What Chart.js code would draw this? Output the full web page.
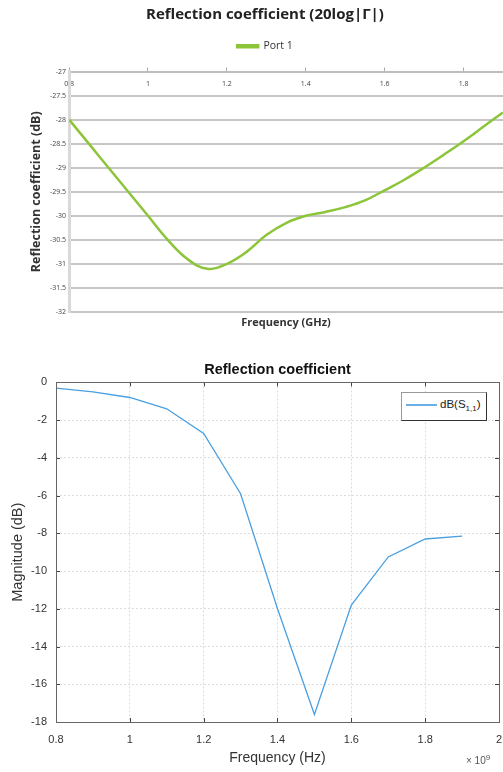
<!DOCTYPE html>
<html>
<head>
<meta charset="utf-8">
<script src="https://cdn.jsdelivr.net/npm/chart.js@4/dist/chart.umd.min.js"></script>
<style>
body { margin: 0; background: #fff; width: 503px; height: 772px; overflow: hidden; position: relative; }
#top { position: absolute; left: 0; top: 0; }
#bottom { position: absolute; left: 0; top: 350px; }
#exp { position: absolute; left: 466px; top: 753px; font: 10px 'Liberation Sans', Arial, sans-serif; color: #555; }
#exp sup { font-size: 8px; }
#s11legend { position: absolute; font: 11.5px 'Liberation Sans', Arial, sans-serif; color: #222; background: #fff;
  border: 1px solid #999; border-right: 1px solid #333; border-bottom: 1px solid #333; padding: 5px 5px 6px 4px; white-space: nowrap; }
#s11legend span.line { display: inline-block; width: 31px; border-top: 2px solid #6ab0e6; vertical-align: middle; margin-right: 3px; }
</style>
</head>
<body>
<canvas id="top" width="503" height="340"></canvas>
<canvas id="bottom" width="503" height="422"></canvas>
<span id="exp">× 10<sup>9</sup></span>
<div id="s11legend"><span class="line"></span>dB(S<sub style="font-size:8px">1,1</sub>)</div>
<script>
// top chart (Excel export)
const portFreq = [0.8, 0.85, 0.9, 0.95, 1.0, 1.05, 1.1, 1.15, 1.2, 1.25, 1.3, 1.35, 1.4, 1.45, 1.5, 1.55, 1.6, 1.65, 1.7, 1.75, 1.8, 1.85, 1.9];
const portDb = [-28.0, -28.5, -29.0, -29.5, -30.0, -30.5, -30.9, -31.1, -31.0, -30.75, -30.4, -30.15, -30.0, -29.92, -29.82, -29.68, -29.47, -29.25, -29.0, -28.73, -28.45, -28.15, -27.85];
const topXTicks = [0.8, 1, 1.2, 1.4, 1.6, 1.8];
const topYTicks = [-27, -27.5, -28, -28.5, -29, -29.5, -30, -30.5, -31, -31.5, -32];

// bottom chart (MATLAB)
const s11Freq = [0.8, 0.9, 1.0, 1.1, 1.2, 1.3, 1.4, 1.5, 1.6, 1.7, 1.8, 1.9];
const s11Db = [-0.3, -0.5, -0.8, -1.4, -2.7, -5.9, -12.0, -17.6, -11.8, -9.25, -8.3, -8.15];
const botXTicks = [0.8, 1, 1.2, 1.4, 1.6, 1.8, 2];
const botYTicks = [0, -2, -4, -6, -8, -10, -12, -14, -16, -18];

const useTicks = list => scale => { scale.ticks = list.map(v => ({ value: v })); };
const plain = v => String(v);

new Chart(document.getElementById('top'), {
	type: 'line',
	data: {
		datasets: [{
			label: 'Port 1',
			data: portFreq.map((f, i) => ({ x: f, y: portDb[i] })),
			borderColor: '#8cc43a',
			backgroundColor: '#8cc43a',
			borderWidth: 2.5,
			pointRadius: 0,
			tension: 0.4
		}]
	},
	options: {
		responsive: false,
		animation: false,
		layout: { padding: { left: 27, right: 0, top: 4, bottom: 11 } },
		plugins: {
			title: {
				display: true,
				text: 'Reflection coefficient (20log|Γ|)',
				font: { family: 'Open Sans', size: 15, weight: 'bold' },
				color: '#222',
				padding: { top: 2, bottom: 9 }
			},
			legend: {
				labels: { boxWidth: 21, boxHeight: 2, font: { family: 'Open Sans', size: 10.5 }, color: '#333', padding: 8 }
			},
			tooltip: { enabled: false }
		},
		scales: {
			x: {
				type: 'linear', position: 'top', min: 0.8, max: 1.9,
				afterBuildTicks: useTicks(topXTicks),
				afterFit: s => { s.height = 10; },
				ticks: { mirror: true, padding: 8, font: { family: 'Open Sans', size: 7 }, color: '#444', maxRotation: 0, callback: plain },
				grid: { drawOnChartArea: false, tickLength: 4, color: '#aaa' },
				border: { color: '#bdbdbd', width: 2 }
			},
			x2: {
				type: 'linear', position: 'bottom', min: 0.8, max: 1.9,
				afterFit: s => { s.height = 17; },
				ticks: { display: false },
				grid: { display: false },
				border: { display: false },
				title: { display: true, text: 'Frequency (GHz)', font: { family: 'Open Sans', size: 11, weight: 'bold' }, color: '#333', padding: { top: 4, bottom: 0 } }
			},
			y: {
				min: -32, max: -27,
				afterBuildTicks: useTicks(topYTicks),
				ticks: { font: { family: 'Open Sans', size: 7 }, color: '#444', padding: 3, callback: plain },
				grid: { color: '#c6c6c6', lineWidth: 2, drawTicks: false },
				border: { color: '#d9d9d9', width: 3 },
				title: { display: true, text: 'Reflection coefficient (dB)', font: { family: 'Open Sans', size: 12.5, weight: 'bold' }, color: '#333', padding: { top: 2, bottom: 3 } }
			}
		}
	}
});

// inward ticks + box like MATLAB axes
const matlabBox = {
	id: 'matlabBox',
	afterDraw(chart) {
		const { ctx, chartArea: a, scales } = chart;
		ctx.save();
		ctx.strokeStyle = '#444';
		ctx.lineWidth = 1;
		scales.x.ticks.forEach(t => {
			const px = Math.round(scales.x.getPixelForValue(t.value)) + 0.5;
			ctx.beginPath();
			ctx.moveTo(px, a.bottom); ctx.lineTo(px, a.bottom - 4);
			ctx.moveTo(px, a.top); ctx.lineTo(px, a.top + 4);
			ctx.stroke();
		});
		scales.y.ticks.forEach(t => {
			const py = Math.round(scales.y.getPixelForValue(t.value)) + 0.5;
			ctx.beginPath();
			ctx.moveTo(a.left, py); ctx.lineTo(a.left + 4, py);
			ctx.moveTo(a.right, py); ctx.lineTo(a.right - 4, py);
			ctx.stroke();
		});
		ctx.strokeStyle = '#666';
		ctx.strokeRect(Math.round(a.left) + 0.5, Math.round(a.top) + 0.5, Math.round(a.right - a.left), Math.round(a.bottom - a.top));
		ctx.restore();
	}
};

const bottomChart = new Chart(document.getElementById('bottom'), {
	type: 'line',
	data: {
		datasets: [{
			label: 'dB(S1,1)',
			data: s11Freq.map((f, i) => ({ x: f, y: s11Db[i] })),
			borderColor: '#4a9fe0',
			borderWidth: 1.3,
			pointRadius: 0,
			tension: 0
		}]
	},
	options: {
		responsive: false,
		animation: false,
		layout: { padding: { left: 9, right: 0, top: 7, bottom: 5 } },
		plugins: {
			title: {
				display: true,
				fullSize: false,
				text: 'Reflection coefficient',
				font: { family: 'Liberation Sans', size: 14.5, weight: 'bold' },
				color: '#111',
				padding: { top: 4, bottom: 4 }
			},
			legend: { display: false },
			tooltip: { enabled: false }
		},
		scales: {
			x: {
				type: 'linear', min: 0.8, max: 2,
				afterBuildTicks: useTicks(botXTicks),
				afterFit: s => { s.height = 45; s.paddingRight = 4; },
				ticks: { font: { family: 'Liberation Sans', size: 11 }, color: '#333', padding: 11, maxRotation: 0, callback: plain },
				grid: { color: '#dcdcdc', drawTicks: false },
				border: { display: false, dash: [2, 2] },
				title: { display: true, text: 'Frequency (Hz)', font: { family: 'Liberation Sans', size: 14 }, color: '#333', padding: { top: 2, bottom: 0 } }
			},
			y: {
				min: -18, max: 0,
				afterBuildTicks: useTicks(botYTicks),
				afterFit: s => { s.width = 47; },
				ticks: { font: { family: 'Liberation Sans', size: 11 }, color: '#333', padding: 9, callback: plain },
				grid: { color: '#dcdcdc', drawTicks: false },
				border: { display: false, dash: [2, 2] },
				title: { display: true, text: 'Magnitude (dB)', font: { family: 'Liberation Sans', size: 14.5 }, color: '#333', padding: { top: 0, bottom: 3 } }
			}
		}
	},
	plugins: [matlabBox]
});

// legend box sits inside the plot, top right
const area = bottomChart.chartArea;
const leg = document.getElementById('s11legend');
leg.style.left = (area.left + 345) + 'px';
leg.style.top = (350 + area.top + 10) + 'px';
</script>
</body>
</html>
